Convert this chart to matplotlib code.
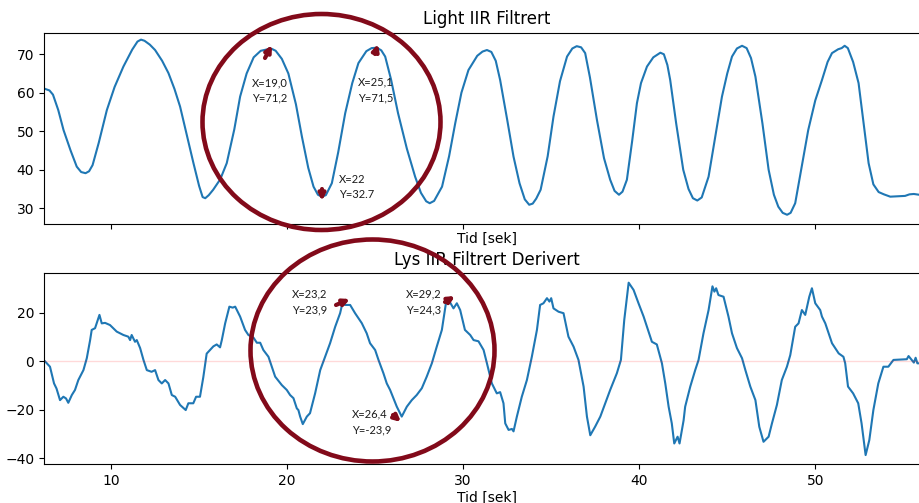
import matplotlib
matplotlib.use("Agg")
import matplotlib.pyplot as plt
from matplotlib.patches import Ellipse, FancyArrowPatch

# ---------------- data ----------------
light_t = [6.25, 6.5, 6.7, 7.0, 7.3, 7.7, 8.05, 8.3, 8.55, 8.75, 8.95, 9.3, 9.76, 10.2, 10.7,
           11.2, 11.5, 11.7, 11.9, 12.2, 12.5, 12.9, 13.26, 13.6, 13.92, 14.3, 14.68, 15.0,
           15.2, 15.35, 15.55, 15.8, 16.2, 16.57, 17.0, 17.33, 17.7, 18.1, 18.5, 18.9, 19.13,
           19.35, 19.7, 20.07, 20.5, 20.84, 21.2, 21.5, 21.75, 21.97, 22.2, 22.54, 22.9, 23.3,
           23.7, 24.05, 24.5, 24.8, 25.1, 25.35, 25.57, 25.9, 26.3, 26.8, 27.27, 27.6, 27.9,
           28.1, 28.35, 28.8, 29.2, 29.55, 29.9, 30.3, 30.8, 31.1, 31.35, 31.6, 31.85, 32.1,
           32.5, 32.86, 33.2, 33.5, 33.75, 33.95, 34.15, 34.4, 34.8, 35.13, 35.5, 35.9, 36.2,
           36.45, 36.7, 36.93, 37.2, 37.6, 38.0, 38.35, 38.6, 38.85, 39.05, 39.3, 39.6, 39.87,
           40.1, 40.44, 40.8, 41.2, 41.4, 41.6, 41.76, 42.1, 42.5, 42.8, 43.05, 43.3, 43.55,
           43.94, 44.3, 44.7, 45.0, 45.27, 45.55, 45.84, 46.1, 46.35, 46.6, 47.0, 47.35, 47.65,
           47.9, 48.15, 48.4, 48.6, 48.86, 49.2, 49.6, 50.0, 50.38, 50.7, 50.95, 51.3, 51.5,
           51.67, 51.85, 52.15, 52.46, 52.75, 53.03, 53.3, 53.6, 53.9, 54.26, 54.7, 55.1,
           55.35, 55.6, 55.9, 56.5]
light_v = [61.0, 60.6, 59.5, 55.5, 50.3, 45.0, 40.8, 39.4, 39.1, 39.6, 41.2, 47.0, 55.5, 61.5,
           66.8, 71.2, 73.3, 73.8, 73.5, 72.5, 71.1, 68.3, 65.1, 61.0, 56.4, 49.0, 41.7, 35.8,
           32.9, 32.6, 33.4, 34.8, 37.5, 41.7, 50.5, 59.0, 65.0, 69.2, 70.9, 71.3, 71.4, 70.9,
           68.8, 65.0, 57.0, 48.6, 40.5, 35.6, 33.5, 33.0, 33.4, 36.5, 44.5, 54.7, 62.5, 67.7,
           70.8, 71.6, 71.7, 71.0, 69.4, 63.5, 54.7, 45.5, 38.2, 34.0, 31.8, 31.3, 31.9, 35.6,
           43.5, 52.1, 60.0, 65.9, 69.6, 70.7, 71.1, 70.6, 68.3, 63.3, 53.0, 43.4, 36.5, 32.3,
           30.9, 31.2, 32.5, 34.8, 43.5, 53.8, 63.0, 69.4, 71.5, 72.1, 71.8, 70.3, 64.0, 52.9,
           43.0, 37.4, 34.5, 33.5, 34.3, 37.4, 47.5, 57.3, 62.5, 66.8, 69.2, 70.4, 70.0, 67.2,
           63.3, 52.0, 40.0, 35.0, 32.6, 32.0, 32.8, 38.2, 48.0, 59.0, 65.0, 69.4, 71.5, 72.2,
           71.6, 69.0, 64.2, 52.0, 40.0, 33.5, 30.4, 28.8, 28.3, 28.8, 31.3, 40.0, 50.3, 58.0,
           63.3, 68.0, 70.3, 71.3, 71.6, 72.2, 71.6, 68.0, 62.5, 52.0, 41.7, 36.2, 34.2, 33.6,
           33.0, 33.1, 33.2, 33.6, 33.7, 33.5, 33.5]

deriv_t = [6.25, 6.53, 6.76, 6.9, 7.1, 7.29, 7.44, 7.57, 7.77, 7.95, 8.14, 8.43, 8.62, 8.81, 8.9,
           9.09, 9.34, 9.47, 9.66, 9.94, 10.32, 10.7, 10.98, 11.08, 11.17, 11.36, 11.46, 11.65,
           11.84, 12.03, 12.3, 12.5, 12.69, 12.88, 13.07, 13.26, 13.45, 13.64, 13.92, 14.24,
           14.39, 14.67, 14.83, 15.05, 15.24, 15.43, 15.81, 16.0, 16.19, 16.29, 16.48, 16.72,
           16.91, 17.05, 17.33, 17.61, 17.8, 18.09, 18.28, 18.47, 18.65, 18.94, 19.13, 19.32,
           19.7, 19.98, 20.17, 20.36, 20.55, 20.64, 20.74, 20.89, 21.12, 21.3, 21.59, 21.88,
           22.16, 22.44, 22.73, 23.01, 23.14, 23.3, 23.58, 23.86, 24.24, 24.52, 24.71, 25.0,
           25.19, 25.47, 25.66, 25.85, 26.04, 26.23, 26.51, 26.8, 27.08, 27.36, 27.65, 27.93,
           28.22, 28.5, 28.79, 29.02, 29.26, 29.45, 29.64, 29.83, 30.1, 30.4, 30.59, 30.87,
           31.16, 31.35, 31.63, 31.91, 32.1, 32.29, 32.39, 32.58, 32.77, 32.86, 33.05, 33.33,
           33.62, 33.9, 34.19, 34.37, 34.56, 34.76, 34.9, 35.0, 35.13, 35.42, 35.7, 35.98,
           36.27, 36.55, 36.84, 37.03, 37.22, 37.5, 37.79, 38.07, 38.35, 38.73, 38.96, 39.15,
           39.4, 39.68, 39.96, 40.25, 40.44, 40.72, 41.0, 41.29, 41.48, 41.67, 41.85, 41.99,
           42.18, 42.29, 42.52, 42.61, 42.9, 43.18, 43.37, 43.65, 43.94, 44.16, 44.27, 44.37,
           44.5, 44.79, 45.07, 45.27, 45.55, 45.84, 46.03, 46.31, 46.6, 46.82, 47.06, 47.35,
           47.54, 47.82, 48.1, 48.39, 48.58, 48.86, 49.05, 49.24, 49.43, 49.66, 49.81, 50.0,
           50.28, 50.38, 50.57, 50.95, 51.33, 51.6, 51.7, 51.86, 52.15, 52.44, 52.63, 52.86,
           53.07, 53.3, 53.58, 53.87, 54.15, 54.44, 55.2, 55.3, 55.6, 55.7, 55.8, 56.5]
deriv_v = [0.0, -2.2, -9.1, -11.2, -16.0, -14.6, -15.3, -17.1, -13.9, -11.8, -7.7, -3.6, 1.3,
           8.8, 13.0, 13.7, 19.2, 15.7, 15.9, 15.0, 12.3, 10.9, 10.2, 8.8, 10.9, 8.1, 8.8, 5.5,
           0.6, -3.6, -4.3, -3.6, -7.7, -9.1, -7.7, -9.1, -13.9, -14.6, -18.0, -20.1, -17.3,
           -17.3, -14.6, -14.6, -6.5, 3.2, 6.2, 7.0, 5.8, 8.8, 15.7, 22.6, 22.2, 22.6, 18.5,
           13.0, 10.9, 9.8, 7.7, 7.7, 4.7, 1.9, -2.2, -6.3, -9.8, -11.8, -13.9, -15.2, -19.4,
           -20.1, -22.8, -25.9, -22.8, -21.4, -13.2, -3.6, 1.9, 7.5, 14.3, 19.9, 24.0, 23.3,
           23.3, 19.9, 15.8, 11.6, 7.5, 4.7, 0.6, -4.9, -9.1, -11.8, -15.2, -18.7, -22.8,
           -18.7, -16.0, -13.9, -11.1, -6.3, -0.8, 6.1, 13.0, 24.0, 24.3, 21.9, 24.0, 21.2,
           13.0, 10.9, 8.8, 8.3, 4.7, -0.8, -9.1, -13.2, -12.7, -17.3, -25.6, -28.3, -27.9,
           -28.9, -22.8, -14.6, -7.7, 1.9, 13.0, 23.3, 24.0, 26.1, 24.7, 26.1, 21.9, 20.5,
           19.9, 10.2, 6.1, 0.6, -10.4, -22.8, -30.5, -26.9, -22.8, -17.3, -11.8, -4.9, 0.6,
           17.1, 32.5, 29.5, 24.0, 18.5, 14.3, 8.1, 7.0, -0.8, -9.1, -18.7, -25.6, -33.9,
           -31.1, -33.9, -24.4, -18.7, -10.4, -3.6, 0.6, 11.6, 21.2, 31.0, 28.8, 30.2, 27.4,
           26.7, 18.5, 11.6, 5.5, 1.3, -3.6, -10.4, -16.0, -27.0, -33.2, -31.1, -25.6, -18.0,
           -7.7, -2.2, 2.6, 14.3, 15.7, 21.2, 19.2, 26.7, 30.2, 24.0, 21.2, 18.5, 15.7, 7.5,
           3.3, 1.9, -0.8, -10.4, -13.2, -17.3, -25.6, -38.7, -32.5, -20.1, -9.1, -2.2, -2.2,
           0.6, 0.9, 2.2, -0.5, 1.5, -0.8, -0.8]

top_title = "Light IIR Filtrert"
bottom_title = "Lys IIR Filtrert Derivert"
x_label = "Tid [sek]"
top_yticks = [30, 40, 50, 60, 70]
bottom_yticks = [-40, -20, 0, 20]
xticks = [10, 20, 30, 40, 50]

# hand-drawn annotations (text lines)
top_notes = [("X=19,0", "Y=71,2"), ("X=25,1", "Y=71,5"), ("X=22", "Y=32.7")]
bottom_notes = [("X=23,2", "Y=23,9"), ("X=29,2", "Y=24,3"), ("X=26,4", "Y=-23,9")]

# ---------------- figure ----------------
W, H = 919, 503
fig = plt.figure(figsize=(W / 100, H / 100), dpi=100)

def fx(px):
    return px / W

def fy(py):
    return 1 - py / H

left = fx(44)
width = fx(929.7) - left
ax1 = fig.add_axes([left, fy(224), width, (224 - 32.7) / H])
ax2 = fig.add_axes([left, fy(464.3), width, (464.3 - 273) / H], sharex=ax1)

blue = "#1f77b4"
ax1.plot(light_t, light_v, color=blue, lw=1.5)
ax1.set_title(top_title, fontsize=12)
ax1.set_xlabel(x_label, labelpad=2)
ax1.set_ylim(25.9, 75.6)
ax1.set_yticks(top_yticks)
ax1.tick_params(labelbottom=False)

ax2.plot(deriv_t, deriv_v, color=blue, lw=1.5)
ax2.axhline(0, color="red", alpha=0.15, lw=1)
ax2.set_title(bottom_title, fontsize=12)
ax2.set_xlabel(x_label, labelpad=2)
ax2.set_ylim(-42.5, 36.5)
ax2.set_yticks(bottom_yticks)
ax2.set_xticks(xticks)
ax2.set_xlim(6.19, 56.5)

# ---------------- overlay annotations ----------------
red = "#820a1a"
tf = fig.transFigure

def ellipse(cx, cy, w, h):
    e = Ellipse((fx(cx), fy(cy)), w / W, h / H, transform=tf, fill=False,
                edgecolor=red, lw=3.3, zorder=20)
    fig.add_artist(e)

ellipse(321.5, 122, 238, 216)
ellipse(372.5, 350.5, 244, 222)

def arrow(x0, y0, x1, y1):
    a = FancyArrowPatch((fx(x0), fy(y0)), (fx(x1), fy(y1)), transform=tf,
                        arrowstyle="-|>", mutation_scale=9, lw=3.0, color=red, zorder=21,
                        shrinkA=0, shrinkB=0)
    fig.add_artist(a)

arrow(265, 58, 272, 45)
arrow(375, 54, 378, 44)
arrow(322, 189, 322, 201)
arrow(336, 305, 350, 299)
arrow(445, 302, 455, 296)
arrow(393, 415, 401, 422)

note_pos_top = [(251.7, 82.7), (357.7, 82.0), (339.3, 179.3)]
note_pos_bot = [(291.7, 294), (405.7, 294), (352.3, 414)]
for (l1, l2), (x, y) in zip(top_notes + bottom_notes, note_pos_top + note_pos_bot):
    fig.text(fx(x), fy(y), l1, transform=tf, ha="left", va="center", fontsize=8,
             family=["Lato", "DejaVu Sans"], color="#1a1a1a", zorder=22)
    fig.text(fx(x), fy(y + 15.7), l2, transform=tf, ha="left", va="center", fontsize=8,
             family=["Lato", "DejaVu Sans"], color="#1a1a1a", zorder=22)

fig.savefig("out.png", dpi=100)
